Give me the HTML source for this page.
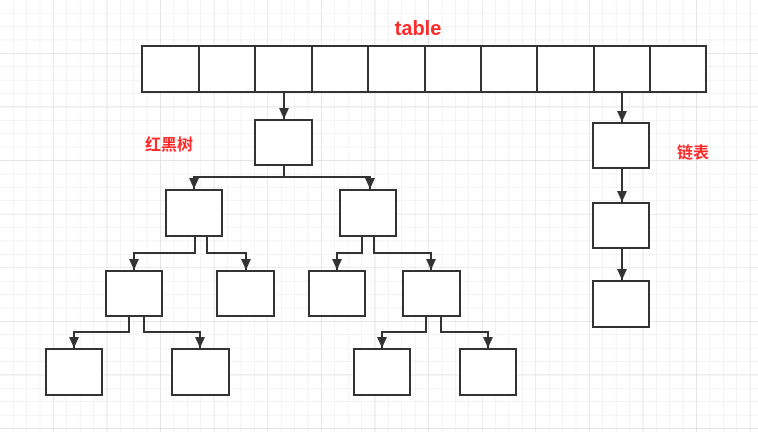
<!DOCTYPE html>
<html><head><meta charset="utf-8"><style>
html,body{margin:0;padding:0;background:#fff;}
svg{display:block}
</style></head><body>
<svg width="758" height="438" xmlns="http://www.w3.org/2000/svg">
<defs>
<pattern id="g" x="0" y="0" width="13.4" height="13.4" patternUnits="userSpaceOnUse">
<path d="M13.4 0V13.4M0 13.4H13.4" stroke="#e8e8e8" stroke-width="1" fill="none"/>
</pattern>
<pattern id="G" x="0" y="0" width="53.6" height="53.6" patternUnits="userSpaceOnUse">
<path d="M53.6 0V53.6M0 53.6H53.6" stroke="#d8d8d8" stroke-width="1" fill="none"/>
</pattern>
<marker id="a" markerWidth="10" markerHeight="12" refX="5" refY="11" orient="0" markerUnits="userSpaceOnUse">
<path d="M0,0 L10,0 L5,11 Z" fill="#333"/>
</marker>
</defs>
<rect x="0" y="0" width="758" height="432" fill="url(#g)"/>
<rect x="0" y="0" width="758" height="432" fill="url(#G)"/>
<g fill="#fff" stroke="#333" stroke-width="2">
<rect x="142" y="46" width="564" height="46"/>
</g>
<g stroke="#333" stroke-width="2">
<line x1="199" y1="46" x2="199" y2="92"/><line x1="255" y1="46" x2="255" y2="92"/>
<line x1="312" y1="46" x2="312" y2="92"/><line x1="368" y1="46" x2="368" y2="92"/>
<line x1="425" y1="46" x2="425" y2="92"/><line x1="481" y1="46" x2="481" y2="92"/>
<line x1="537" y1="46" x2="537" y2="92"/><line x1="594" y1="46" x2="594" y2="92"/>
<line x1="650" y1="46" x2="650" y2="92"/>
</g>
<g fill="none" stroke="#333" stroke-width="2">
<path d="M284 92V119" marker-end="url(#a)"/>
<path d="M622 92V122" marker-end="url(#a)"/>
<path d="M622 168V202" marker-end="url(#a)"/>
<path d="M622 248V280" marker-end="url(#a)"/>
<path d="M284 165V177H194V189" marker-end="url(#a)"/>
<path d="M284 177H370V189" marker-end="url(#a)"/>
<path d="M195 236V253H134V270" marker-end="url(#a)"/>
<path d="M207 236V253H246V270" marker-end="url(#a)"/>
<path d="M362 236V253H337V270" marker-end="url(#a)"/>
<path d="M374 236V253H431V270" marker-end="url(#a)"/>
<path d="M129 316V332H74V348" marker-end="url(#a)"/>
<path d="M144 316V332H200V348" marker-end="url(#a)"/>
<path d="M426 316V332H382V348" marker-end="url(#a)"/>
<path d="M441 316V332H488V348" marker-end="url(#a)"/>
</g>
<g fill="#fff" stroke="#333" stroke-width="2">
<rect x="255" y="120" width="57" height="45"/>
<rect x="166" y="190" width="56" height="46"/>
<rect x="340" y="190" width="56" height="46"/>
<rect x="106" y="271" width="56" height="45"/>
<rect x="217" y="271" width="57" height="45"/>
<rect x="309" y="271" width="56" height="45"/>
<rect x="403" y="271" width="57" height="45"/>
<rect x="46" y="349" width="56" height="46"/>
<rect x="172" y="349" width="57" height="46"/>
<rect x="354" y="349" width="56" height="46"/>
<rect x="460" y="349" width="56" height="46"/>
<rect x="593" y="123" width="56" height="45"/>
<rect x="593" y="203" width="56" height="45"/>
<rect x="593" y="281" width="56" height="46"/>
</g>
<g fill="#ff2a2a" font-family="'Liberation Sans','Noto Sans CJK SC',sans-serif" font-weight="bold">
<text x="418" y="35" font-size="20" text-anchor="middle">table</text>
<text x="145" y="150" font-size="16">红黑树</text>
<text x="677" y="158" font-size="16">链表</text>
</g>
</svg>
</body></html>
